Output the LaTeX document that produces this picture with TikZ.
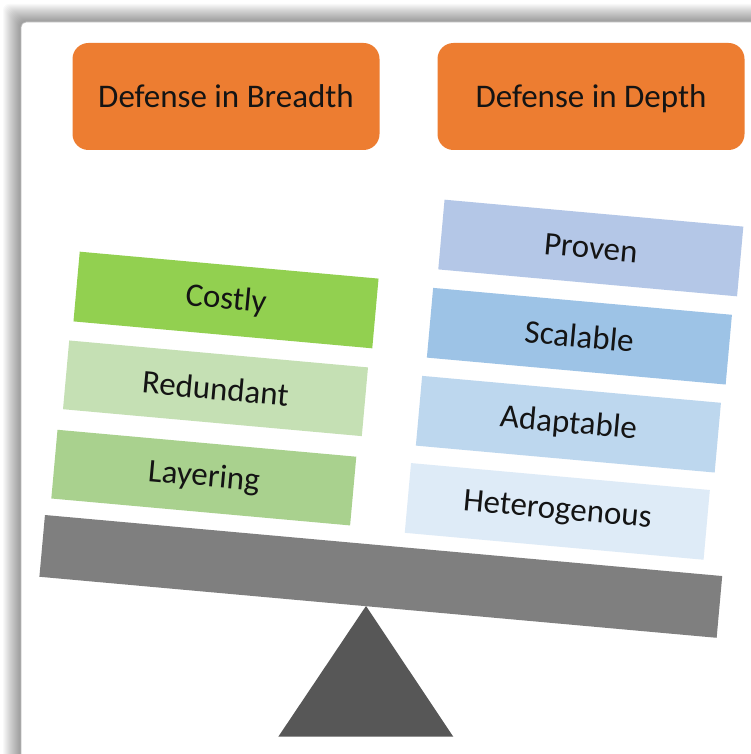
\documentclass[tikz,border=0pt]{standalone}
\usepackage{fontspec}
\setmainfont{Carlito}
\definecolor{titleorange}{HTML}{ED7D31}
\definecolor{greenA}{HTML}{92D050}
\definecolor{greenB}{HTML}{C5E0B4}
\definecolor{greenC}{HTML}{A9D18E}
\definecolor{blueA}{HTML}{B4C7E7}
\definecolor{blueB}{HTML}{9DC3E6}
\definecolor{blueC}{HTML}{BDD7EE}
\definecolor{blueD}{HTML}{DEEBF7}
\definecolor{beamgray}{HTML}{7F7F7F}
\definecolor{fulcrumgray}{HTML}{575757}
\definecolor{inktext}{HTML}{141414}
\begin{document}
\begin{tikzpicture}[x=1pt,y=-1pt,
  labelfont/.style={font=\fontsize{33}{40}\selectfont, text=inktext},
  titlebox/.style={labelfont, fill=titleorange, rounded corners=16pt,
    minimum width=307pt, minimum height=107pt, inner sep=0pt,
    text depth=-2pt},
  slab/.style={labelfont, minimum width=300pt, minimum height=69pt,
    inner sep=0pt, rotate=-5.15},
  beambar/.style={fill=beamgray, minimum width=680pt, minimum height=62pt,
    inner sep=0pt, rotate=-5.15},
]
\useasboundingbox (0,0) rectangle (751,754);
\clip (0,0) rectangle (751,754);

% framed panel with a soft shadow
\fill[white] (0,0) rectangle (751,754);
\foreach \i in {1,...,18}
  \fill[black, opacity=0.022, rounded corners=6pt] (21-\i,22-\i) rectangle (820,820);
\fill[white, rounded corners=5pt] (21,22) rectangle (820,820);
\draw[gray!55, line width=0.8pt, rounded corners=5pt] (21,22) rectangle (820,820);

% headings
\node[titlebox] (breadth) at (226,96.5) {Defense in Breadth};
\node[titlebox] (depth)   at (591,96.5) {Defense in Depth};

% left pan
\node[slab, fill=greenA, minimum height=70pt] (costly)    at (226,300)   {Costly};
\node[slab, fill=greenB]                      (redundant) at (215.5,388.3) {Redundant};
\node[slab, fill=greenC]                      (layering)  at (203.8,477.6) {Layering};

% right pan
\node[slab, fill=blueA, minimum height=70pt] (proven)    at (590.8,248)   {Proven};
\node[slab, fill=blueB, minimum height=70pt] (scalable)  at (579.4,336.2) {Scalable};
\node[slab, fill=blueC, minimum height=70pt] (adaptable) at (568.4,424.2) {Adaptable};
\node[slab, fill=blueD, minimum height=70pt] (hetero)    at (557.3,511.4) {Heterogenous};

% balance beam and fulcrum
\node[beambar] (beam) at (380.8,576.4) {};
\coordinate (pivot) at (366,606);
\fill[fulcrumgray] (pivot) -- (453.3,736.7) -- (278.3,736.7) -- cycle;
\end{tikzpicture}
\end{document}
